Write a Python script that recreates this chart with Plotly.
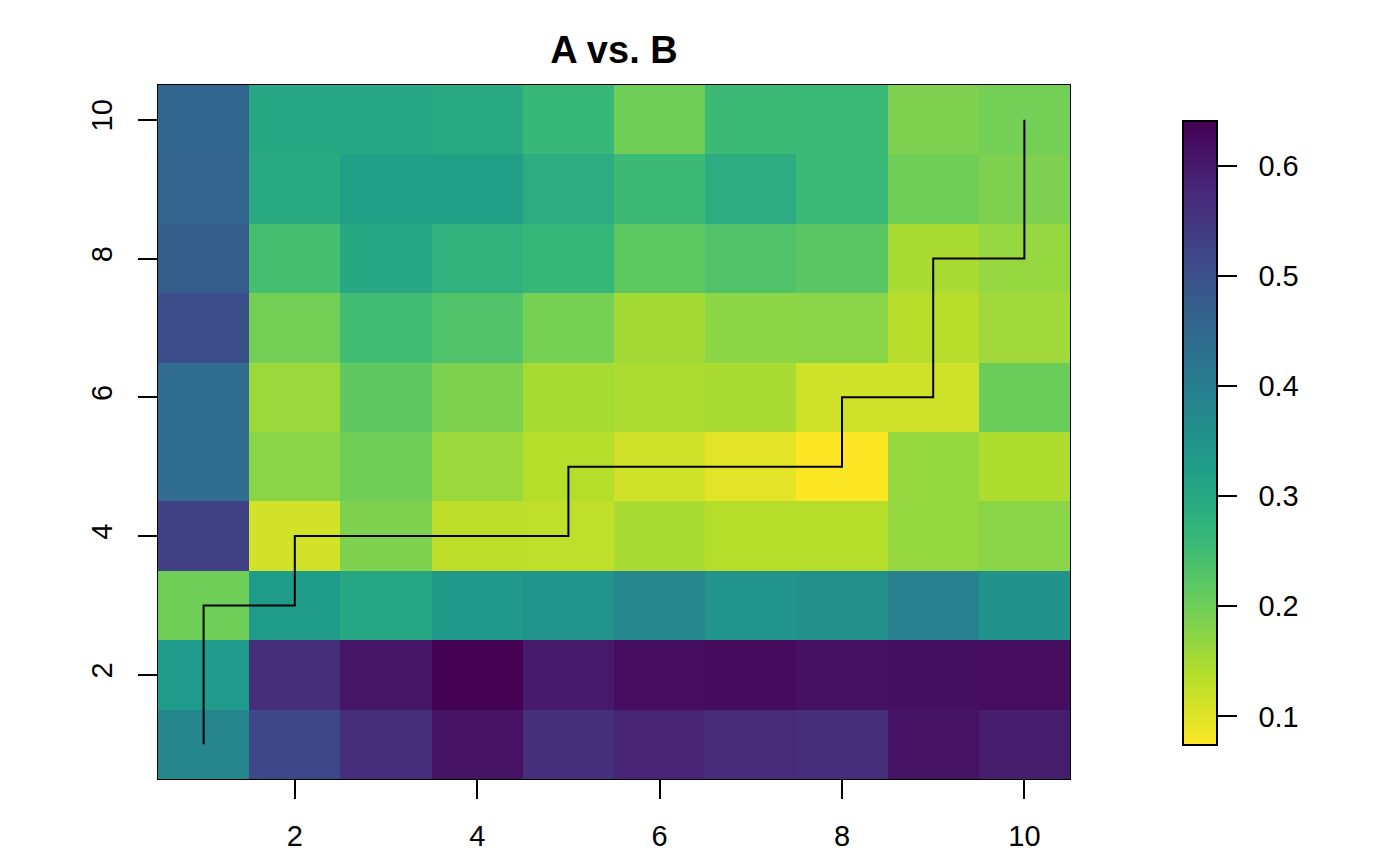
import plotly.graph_objects as go

x_idx = list(range(1, 11))
y_idx = list(range(1, 11))

# rows: y = 1 .. 10 (bottom to top), columns x = 1 .. 10
z_rows = [
    [0.380, 0.516, 0.567, 0.613, 0.562, 0.584, 0.573, 0.567, 0.613, 0.596],  # y=1
    [0.335, 0.567, 0.607, 0.641, 0.601, 0.621, 0.624, 0.615, 0.618, 0.621],  # y=2
    [0.199, 0.330, 0.300, 0.338, 0.346, 0.375, 0.346, 0.358, 0.392, 0.350],  # y=3
    [0.530, 0.112, 0.187, 0.130, 0.128, 0.148, 0.137, 0.137, 0.165, 0.176],  # y=4
    [0.443, 0.176, 0.200, 0.160, 0.137, 0.114, 0.097, 0.074, 0.165, 0.142],  # y=5
    [0.443, 0.160, 0.216, 0.187, 0.150, 0.145, 0.147, 0.114, 0.114, 0.204],  # y=6
    [0.505, 0.196, 0.250, 0.233, 0.193, 0.153, 0.173, 0.176, 0.134, 0.156],  # y=7
    [0.477, 0.244, 0.300, 0.275, 0.263, 0.219, 0.233, 0.222, 0.148, 0.165],  # y=8
    [0.460, 0.295, 0.320, 0.320, 0.290, 0.255, 0.290, 0.258, 0.199, 0.187],  # y=9
    [0.454, 0.300, 0.300, 0.295, 0.261, 0.200, 0.255, 0.258, 0.187, 0.196],  # y=10
]

path_x = [1, 1, 1, 2, 3, 4, 5, 6, 7, 8, 9, 10]
path_y = [1, 2, 3, 4, 4, 4, 5, 5, 5, 6, 8, 10]

axis_ticks = [2, 4, 6, 8, 10]
cbar_ticks = [0.1, 0.2, 0.3, 0.4, 0.5, 0.6]
cbar_labels = ["0.1", "0.2", "0.3", "0.4", "0.5", "0.6"]

FONT = "Liberation Sans, Arial, Helvetica, sans-serif"
FS = 29

# page body has an 8px margin: figure is 1392x858 placed at (8, 8)
W, H = 1392, 858
ML, MR, MT, MB = 150, 330, 77, 87
PW = W - ML - MR  # 912
PH = H - MT - MB  # 694

zflat = [v for r in z_rows for v in r]

fig = go.Figure()
fig.add_trace(go.Heatmap(
    x=x_idx, y=y_idx, z=z_rows,
    colorscale="Viridis", reversescale=True,
    zmin=min(zflat), zmax=max(zflat),
    showscale=True,
    colorbar=dict(
        x=(1183 - 158) / PW, xanchor="left", xref="paper",
        y=(779 - 745) / PH, yanchor="bottom", yref="paper",
        len=(745 - 121) / PH, lenmode="fraction",
        thickness=34, thicknessmode="pixels",
        outlinecolor="black", outlinewidth=2,
        tickvals=cbar_ticks, ticktext=["\u00a0\u00a0" + t for t in cbar_labels],
        ticks="outside", ticklen=19, tickwidth=1.5, tickcolor="black",
        tickfont=dict(family=FONT, size=FS, color="black"),
        xpad=0, ypad=0,
    ),
))
fig.add_trace(go.Scatter(
    x=path_x, y=path_y, mode="lines",
    line=dict(color="black", width=2, shape="hv"),
    showlegend=False, hoverinfo="skip",
))

fig.update_layout(
    width=W, height=H,
    margin=dict(l=ML, r=MR, t=MT, b=MB),
    paper_bgcolor="white", plot_bgcolor="white",
    showlegend=False,
    title=dict(text="<b>A vs. B</b>", x=(ML + PW / 2) / W, xanchor="center",
               xref="container", y=1 - 42 / H, yanchor="middle", yref="container",
               font=dict(family=FONT, size=38, color="black")),
    font=dict(family=FONT, size=FS, color="black"),
)
fig.update_xaxes(
    range=[0.5, 10.5], tickvals=axis_ticks, ticks="outside", ticklen=19, tickwidth=1.5,
    tickcolor="black", showline=True, mirror=True, linecolor="black", linewidth=1,
    showgrid=False, zeroline=False, ticklabelstandoff=12,
    tickfont=dict(family=FONT, size=FS, color="black"),
)
fig.update_yaxes(
    range=[0.5, 10.5], tickvals=axis_ticks, ticks="outside", ticklen=19, tickwidth=1.5,
    tickcolor="black", showline=True, mirror=True, linecolor="black", linewidth=1,
    showgrid=False, zeroline=False, tickangle=-90, ticklabelstandoff=14,
    tickfont=dict(family=FONT, size=FS, color="black"),
)

fig.write_html("out.html")
